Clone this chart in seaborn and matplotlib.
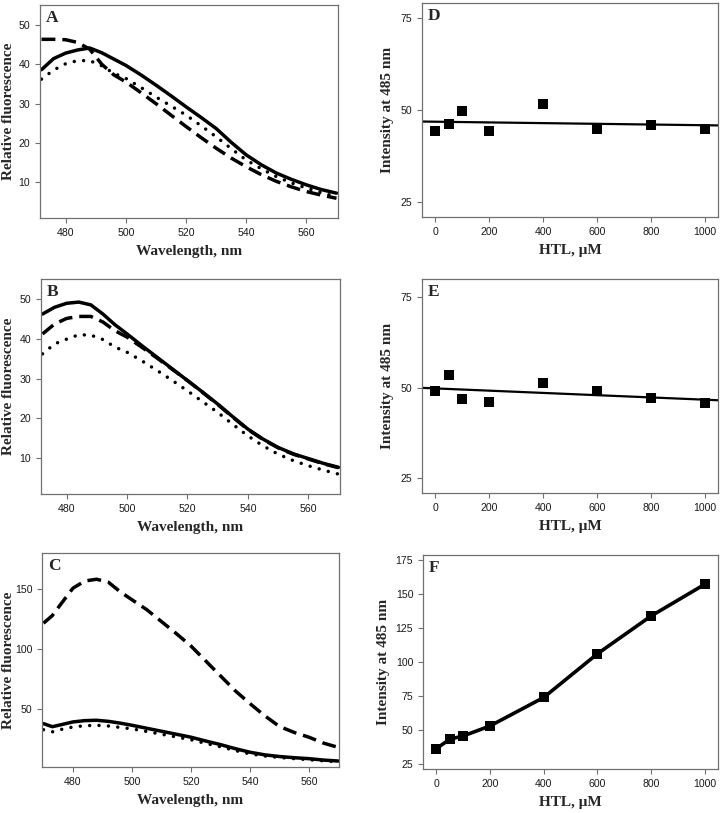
import pandas as pd
import matplotlib.pyplot as plt
import seaborn as sns
import numpy as np

# wavelength grids (nm)
wl_ab = [472, 476, 480, 484, 488, 492, 496, 500, 505, 510, 515, 520, 525, 530, 535, 540, 545, 550, 555, 560, 565, 570]
wl_c = [470, 473, 476, 480, 484, 488, 492, 496, 500, 505, 510, 515, 520, 525, 530, 535, 540, 545, 550, 555, 560, 565, 570]

# panel A spectra
a_solid = [38.6, 41.4, 42.8, 43.6, 44.1, 42.9, 41.3, 39.7, 37.3, 34.7, 32.0, 29.2, 26.5, 23.7, 20.2, 17.0, 14.5, 12.4, 10.8, 9.4, 8.2, 7.3]
a_dash = [46.3, 46.3, 46.2, 45.5, 43.8, 40.0, 37.3, 35.5, 32.8, 30.0, 27.1, 24.2, 21.4, 18.7, 16.2, 14.0, 12.0, 10.3, 8.9, 7.7, 6.8, 6.0]
a_dot = [36.2, 38.5, 40.1, 40.9, 40.9, 39.6, 37.7, 36.4, 34.1, 31.7, 29.4, 27.1, 24.4, 21.6, 18.6, 15.7, 13.5, 11.5, 9.9, 8.6, 7.4, 6.4]

# panel B spectra
b_solid = [46.2, 47.9, 48.9, 49.2, 48.5, 46.2, 43.5, 41.2, 38.2, 35.3, 32.4, 29.5, 26.6, 23.6, 20.4, 17.3, 14.8, 12.7, 11.1, 9.9, 8.7, 7.7]
b_dash = [41.2, 43.7, 45.1, 45.6, 45.6, 44.2, 42.0, 40.4, 37.8, 35.1, 32.3, 29.5, 26.5, 23.5, 20.3, 17.2, 14.7, 12.6, 11.0, 9.8, 8.6, 7.6]
b_dot = [36.2, 38.7, 39.9, 41.0, 40.9, 39.8, 37.9, 36.6, 34.4, 32.0, 29.5, 26.9, 24.2, 21.5, 18.5, 15.6, 13.1, 11.0, 9.4, 8.1, 7.0, 6.0]

# panel C spectra
c_solid = [37.4, 34.8, 36.5, 38.8, 39.9, 40.2, 39.3, 37.8, 36.0, 33.5, 31.0, 28.5, 26.0, 22.8, 19.8, 16.4, 13.4, 11.2, 9.8, 8.8, 8.0, 6.8, 6.0]
c_dash = [121.6, 128.0, 138.0, 151.0, 157.0, 158.5, 156.0, 148.0, 141.3, 133.0, 123.0, 113.0, 102.5, 90.0, 77.5, 65.0, 54.2, 44.0, 35.0, 30.0, 26.0, 21.0, 17.4]
c_dot = [32.3, 30.5, 32.5, 34.6, 35.6, 36.0, 35.4, 34.2, 33.0, 30.8, 28.5, 26.2, 23.9, 20.8, 18.0, 14.8, 12.0, 10.2, 9.0, 8.0, 7.1, 6.2, 5.3]

# intensity at 485 nm vs HTL
htl = [0, 50, 100, 200, 400, 600, 800, 1000]
d_int = [44.2, 46.2, 49.6, 44.2, 51.6, 44.9, 46.0, 44.9]
e_int = [49.1, 53.4, 47.0, 46.0, 51.3, 49.1, 47.2, 45.8]
f_int = [36.1, 43.0, 45.4, 52.8, 73.8, 106.0, 133.9, 157.3]

sns.set_style("ticks")
plt.rcParams['font.family'] = ['Liberation Sans', 'DejaVu Sans']

W, H = 723, 813
fig = plt.figure(figsize=(W / 100, H / 100), dpi=100)

def box(l, r, t, b):
    return fig.add_axes([l / W, 1 - b / H, (r - l) / W, (b - t) / H])

lab = dict(family='Liberation Serif', fontweight='bold', fontsize=11)
dash = (0, (4, 2))
dots = (0, (0.01, 2.7))

def style(ax, letter, xlabel, ylabel, ylab_x):
    for s in ax.spines.values():
        s.set_color('#707070')
        s.set_linewidth(0.9)
    ax.tick_params(colors='#707070', labelcolor='#1a1a1a', labelsize=7.6, length=3.5, width=0.8)
    ax.set_xlabel(xlabel, **lab, labelpad=5)
    ax.set_ylabel(ylabel, **lab, va='center')
    # place the y label centre at a fixed pixel column of the figure
    yc = ax.get_position().y0 + ax.get_position().height / 2
    ax.yaxis.set_label_coords(ylab_x / W, yc, transform=fig.transFigure)
    ax.text(0.02, 0.975, letter, transform=ax.transAxes, va='top', ha='left',
            family='Liberation Serif', fontweight='bold', fontsize=12.5)

def spectra(ax, wl, solid, dashed, dotted):
    sns.lineplot(x=wl, y=solid, ax=ax, color='black', lw=2.5)
    sns.lineplot(x=wl, y=dashed, ax=ax, color='black', lw=2.5, linestyle=dash)
    l = sns.lineplot(x=wl, y=dotted, ax=ax, color='black', lw=2.5, linestyle=dots)
    l.lines[-1].set_dash_capstyle('round')

# A
ax = box(40, 338, 5, 218)
spectra(ax, wl_ab, a_solid, a_dash, a_dot)
ax.set_xlim(471.5, 570.5)
ax.set_ylim(1, 55)
ax.set_xticks([480, 500, 520, 540, 560])
ax.set_yticks([10, 20, 30, 40, 50])
style(ax, 'A', 'Wavelength, nm', 'Relative fluorescence', 9)

# B
ax = box(41, 340, 279, 494)
spectra(ax, wl_ab, b_solid, b_dash, b_dot)
ax.set_xlim(471.5, 570.5)
ax.set_ylim(1, 55)
ax.set_xticks([480, 500, 520, 540, 560])
ax.set_yticks([10, 20, 30, 40, 50])
style(ax, 'B', 'Wavelength, nm', 'Relative fluorescence', 9)

# C
ax = box(42, 339, 553, 767)
spectra(ax, wl_c, c_solid, c_dash, c_dot)
ax.set_xlim(469.5, 570.2)
ax.set_ylim(1, 180.5)
ax.set_xticks([480, 500, 520, 540, 560])
ax.set_yticks([50, 100, 150])
style(ax, 'C', 'Wavelength, nm', 'Relative fluorescence', 9)

# D, E: scatter + linear fit
for (t, b), vals, letter, top in [((3, 217), d_int, 'D', 79), ((279, 493), e_int, 'E', 80)]:
    ax = box(422, 718, t, b)
    ax.set_xlim(-50, 1050)
    sns.regplot(x=htl, y=vals, ax=ax, ci=None, truncate=False, color='black',
                marker='s', scatter_kws=dict(s=44, alpha=1, linewidths=0),
                line_kws=dict(lw=1.6))
    ax.set_xlim(-50, 1050)
    ax.set_ylim(21, top)
    ax.set_xticks([0, 200, 400, 600, 800, 1000])
    ax.set_yticks([25, 50, 75])
    style(ax, letter, 'HTL, \u03bcM', 'Intensity at 485 nm', 388)

# F
ax = box(423, 718, 555, 769)
sns.lineplot(x=htl, y=f_int, ax=ax, color='black', lw=2.6, marker='s', markersize=7.5,
             markeredgewidth=0)
ax.set_xlim(-50, 1050)
ax.set_ylim(21, 179)
ax.set_xticks([0, 200, 400, 600, 800, 1000])
ax.set_yticks([25, 50, 75, 100, 125, 150, 175])
style(ax, 'F', 'HTL, \u03bcM', 'Intensity at 485 nm', 384)

fig.savefig('out.png', dpi=100)
